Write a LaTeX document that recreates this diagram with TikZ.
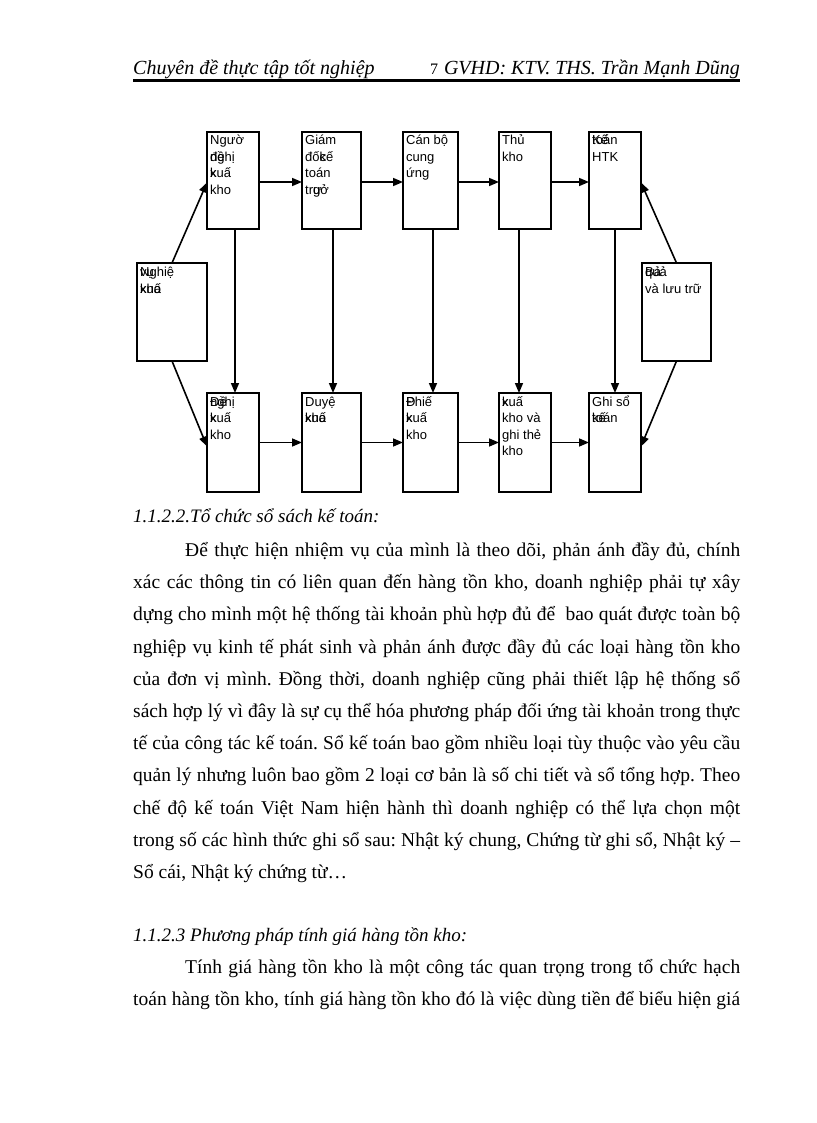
\documentclass[tikz,border=0pt]{standalone}
\usepackage{fontspec}
\setmainfont{Liberation Serif}
\newfontfamily\sansf{Liberation Sans}
\usetikzlibrary{arrows.meta,calc}
\frenchspacing
\newcommand{\boxlines}[3]{%
  \foreach \btx [count=\i] in {#3} {
    \node[btxt] (#1-l\i) at ($(#1.north west)+({3},{13+#2*(\i-1)})$) {\btx};
  }%
}
\begin{document}
\begin{tikzpicture}[x=1pt,y=-1pt,
  box/.style={draw=black, line width=1.6pt, inner sep=0pt, outer sep=0pt, anchor=north west},
  btxt/.style={font=\sansf\fontsize{13}{15}\selectfont, anchor=base west, inner sep=0pt},
  arr/.style={line width=1.6pt, -{Triangle[length=10pt,width=8pt]}},
  body/.style={font=\fontsize{19.5}{22}\selectfont, anchor=base west, inner sep=0pt},
  head/.style={font=\itshape\fontsize{19}{22}\selectfont, anchor=base west, inner sep=0pt}]
\useasboundingbox (0,0) rectangle (816,1123);
\fill[white] (0,0) rectangle (816,1123);

% header
\node[head, font=\itshape\fontsize{20}{22}\selectfont] (hl) at (133,75) {Chuyên đề thực tập tốt nghiệp};
\node[anchor=base west, inner sep=0pt, font=\fontsize{16}{20}\selectfont] (pg) at (430,75) {7};
\node[anchor=base east, inner sep=0pt, font=\itshape\fontsize{20}{22}\selectfont] (hr) at (740,75) {GVHD: KTV. THS. Trần Mạnh Dũng};
\coordinate (r1) at (133,80.5);
\coordinate (r2) at (740,80.5);
\draw[line width=3pt] (r1) -- (r2);

% diagram boxes
\node[box, minimum width=52pt, minimum height=97pt] (A1) at (207,132) {};
\node[box, minimum width=59pt, minimum height=97pt] (A2) at (302,132) {};
\node[box, minimum width=55pt, minimum height=97pt] (A3) at (403,132) {};
\node[box, minimum width=52pt, minimum height=97pt] (A4) at (499,132) {};
\node[box, minimum width=52pt, minimum height=97pt] (A5) at (589,132) {};
\node[box, minimum width=52pt, minimum height=99pt] (B1) at (207,393) {};
\node[box, minimum width=59pt, minimum height=99pt] (B2) at (302,393) {};
\node[box, minimum width=55pt, minimum height=99pt] (B3) at (403,393) {};
\node[box, minimum width=52pt, minimum height=99pt] (B4) at (499,393) {};
\node[box, minimum width=52pt, minimum height=99pt] (B5) at (589,393) {};
\node[box, minimum width=70pt, minimum height=98pt] (L) at (137,263) {};
\node[box, minimum width=69pt, minimum height=98pt] (R) at (642,263) {};

% box texts
\boxlines{A1}{16.5}{Ngườ,\rlap{đề}nghị,\rlap{k}xuấ,kho}
\boxlines{A2}{16.5}{Giám,đố\rlap{c}kế,toán,tr\rlap{ư}gở}
\boxlines{A3}{16.5}{Cán bộ,cung,ứng}
\boxlines{A4}{16.5}{Thủ,kho}
\boxlines{A5}{16.5}{\rlap{Kế}toán,HTK}
\boxlines{B1}{16.5}{\rlap{Đề}nghị,\rlap{k}xuấ,kho}
\boxlines{B2}{16.5}{Duyệ,\rlap{xuấ}kho}
\boxlines{B3}{16.5}{\rlap{Đ}Phiế,\rlap{k}xuấ,kho}
\boxlines{B4}{16.5}{\rlap{k}xuấ,kho và,ghi thẻ,kho}
\boxlines{B5}{16.5}{Ghi sổ,\rlap{kế}toán}
\boxlines{L}{17.5}{\rlap{vụ}Nghiệ,\rlap{xuấ}kho}
\boxlines{R}{17.5}{\rlap{Bả}quả,và lưu trữ}

% connectors
\draw[arr] (L.north) -- ($(A1.west)+(0,2)$);
\draw[arr] (L.south) -- ($(B1.west)+(0,4)$);
\draw[arr] (R.north) -- ($(A5.east)+(0,2)$);
\draw[arr] (R.south) -- ($(B5.east)+(0,4)$);
\draw[arr] ($(A1.east)+(0,1.5)$) -- ($(A2.west)+(0,1.5)$);
\draw[arr] ($(A2.east)+(0,1.5)$) -- ($(A3.west)+(0,1.5)$);
\draw[arr] ($(A3.east)+(0,1.5)$) -- ($(A4.west)+(0,1.5)$);
\draw[arr] ($(A4.east)+(0,1.5)$) -- ($(A5.west)+(0,1.5)$);
\draw[arr] (B1.east) -- (B2.west);
\draw[arr] (B2.east) -- (B3.west);
\draw[arr] (B3.east) -- (B4.west);
\draw[arr] (B4.east) -- (B5.west);
\draw[arr] ($(A1.south)+(2,0)$) -- ($(B1.north)+(2,0)$);
\draw[arr] ($(A2.south)+(1.5,0)$) -- ($(B2.north)+(1.5,0)$);
\draw[arr] ($(A3.south)+(2.5,0)$) -- ($(B3.north)+(2.5,0)$);
\draw[arr] ($(A4.south)+(-6,0)$) -- ($(B4.north)+(-6,0)$);
\draw[arr] (A5.south) -- (B5.north);

% body text
\node[head] (h1) at (133,522) {1.1.2.2.Tổ chức sổ sách kế toán:};
\node[body] (p1) at (185,556) {\makebox[555pt][s]{Để thực hiện nhiệm vụ của mình là theo dõi, phản ánh đầy đủ, chính}};
\node[body] (p2) at (133,588) {\makebox[607pt][s]{xác các thông tin có liên quan đến hàng tồn kho, doanh nghiệp phải tự xây}};
\node[body] (p3) at (133,620) {\makebox[607pt][s]{dựng cho mình một hệ thống tài khoản phù hợp đủ để~ bao quát được toàn bộ}};
\node[body] (p4) at (133,653) {\makebox[607pt][s]{nghiệp vụ kinh tế phát sinh và phản ánh được đầy đủ các loại hàng tồn kho}};
\node[body] (p5) at (133,685) {\makebox[607pt][s]{của đơn vị mình. Đồng thời, doanh nghiệp cũng phải thiết lập hệ thống sổ}};
\node[body] (p6) at (133,717) {\makebox[607pt][s]{sách hợp lý vì đây là sự cụ thể hóa phương pháp đối ứng tài khoản trong thực}};
\node[body] (p7) at (133,749) {\makebox[607pt][s]{tế của công tác kế toán. Sổ kế toán bao gồm nhiều loại tùy thuộc vào yêu cầu}};
\node[body] (p8) at (133,781) {\makebox[607pt][s]{quản lý nhưng luôn bao gồm 2 loại cơ bản là số chi tiết và sổ tổng hợp. Theo}};
\node[body] (p9) at (133,814) {\makebox[607pt][s]{chế độ kế toán Việt Nam hiện hành thì doanh nghiệp có thể lựa chọn một}};
\node[body] (p10) at (133,846) {\makebox[607pt][s]{trong số các hình thức ghi sổ sau: Nhật ký chung, Chứng từ ghi sổ, Nhật ký –}};
\node[body] (p11) at (133,878) {Sổ cái, Nhật ký chứng từ…};
\node[head] (h2) at (133,941) {1.1.2.3 Phương pháp tính giá hàng tồn kho:};
\node[body] (p12) at (185,973) {\makebox[555pt][s]{Tính giá hàng tồn kho là một công tác quan trọng trong tổ chức hạch}};
\node[body] (p13) at (133,1005) {\makebox[607pt][s]{toán hàng tồn kho, tính giá hàng tồn kho đó là việc dùng tiền để biểu hiện giá}};
\end{tikzpicture}
\end{document}
